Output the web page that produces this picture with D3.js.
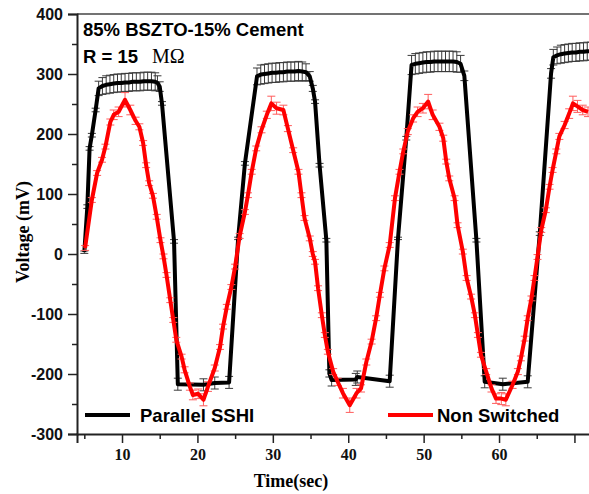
<!DOCTYPE html>
<html>
<head>
<meta charset="utf-8">
<script src="https://cdn.jsdelivr.net/npm/d3@7"></script>
<style>
  html, body { margin: 0; padding: 0; background: #fff; overflow: hidden; }
  svg { display: block; }
</style>
</head>
<body>
<svg width="589" height="494"></svg>
<script>
// Parallel SSHI (black)
var sshiTime = [5.0, 5.4, 5.7, 6.0, 6.5, 6.9, 7.4, 7.9, 8.4, 8.9, 9.4, 9.9, 10.4, 10.9, 11.4, 11.9, 12.4, 12.9, 13.4, 13.9, 14.4, 14.7, 15.0, 15.3, 16.9,
  17.4, 20.8, 22.3, 24.2,
  25.4, 26.3, 27.9, 28.4, 28.9, 29.4, 29.9, 30.4, 30.9, 31.4, 31.9, 32.4, 32.9, 33.4, 33.9, 34.4, 34.9, 35.3, 35.6, 36.2, 37.1,
  37.5, 37.8, 41.0, 41.2, 45.5,
  46.6, 47.7, 48.4, 48.9, 49.4, 49.9, 50.4, 50.9, 51.4, 51.9, 52.4, 52.9, 53.4, 53.9, 54.4, 54.9, 55.4, 57.0,
  58.1, 60.5, 63.8,
  65.4, 66.9, 67.2, 67.7, 68.2, 68.7, 69.2, 69.7, 70.2, 70.7, 71.2, 71.7, 72.2];
var sshiVolt = [3, 79, 176, 198, 240, 276, 280, 282, 283, 284, 285, 285, 286, 286, 287, 287, 287, 288, 288, 288, 287, 285, 279, 251, 21,
  -217, -218, -215, -214,
  26, 151, 296, 299, 300, 301, 302, 302, 303, 303, 304, 304, 304, 305, 304, 303, 296, 276, 254, 148, 23,
  -199, -210, -209, -205, -212,
  26, 193, 315, 317, 318, 319, 320, 320, 321, 321, 321, 321, 321, 321, 320, 317, 297, 23,
  -213, -217, -213,
  34, 301, 328, 331, 333, 334, 335, 336, 336, 337, 337, 338, 338];
var sshiErr = [2, 3, 3, 3, 3, 12, 14, 15, 15, 15, 15, 15, 15, 15, 15, 15, 15, 15, 15, 15, 15, 12, 8, 3, 3,
  10, 10, 10, 10,
  2, 3, 14, 16, 16, 16, 16, 16, 16, 16, 16, 16, 16, 16, 16, 14, 8, 5, 3, 3, 3,
  6, 10, 10, 10, 10,
  2, 3, 16, 17, 17, 17, 17, 17, 17, 17, 17, 17, 17, 17, 17, 14, 8, 3,
  10, 10, 10,
  3, 8, 13, 14, 15, 15, 15, 15, 15, 15, 15, 15, 15];

// Non Switched (red)
var nsTime = [5.1, 6.0, 6.7, 7.35, 7.8, 8.45, 8.9, 9.55, 10.4, 11.1, 11.8, 12.3, 12.8, 13.2, 13.6, 14.1, 14.6, 15.1,
  15.5, 15.9, 16.4, 16.8, 17.2, 17.9, 18.3, 19.0, 19.4, 20.1, 20.8, 21.4, 22.3, 23.0, 23.4, 23.9, 24.5, 25.0,
  25.6, 26.3, 26.7, 27.2, 27.8, 28.5, 29.2, 29.8, 30.5, 31.4, 32.0, 32.7, 33.4, 33.8, 34.2, 34.9, 35.3,
  35.6, 36.0, 36.5, 36.9, 37.3, 38.0, 38.6, 39.3, 40.2, 41.1, 41.7, 42.4, 43.1, 43.7, 44.2, 44.8,
  45.5, 46.2, 46.8, 47.3, 47.9, 48.6, 49.2, 49.9, 50.6, 51.2, 52.1, 52.6, 53.0, 53.4, 54.1, 54.5, 55.2,
  55.7, 56.3, 56.8, 57.2, 57.6, 58.3, 59.0, 59.6, 60.3, 60.9, 61.8, 62.5, 62.9, 63.4, 63.8, 64.3, 64.7, 65.1,
  65.6, 66.2, 66.7, 67.1, 67.6, 68.0, 68.7, 69.3, 69.8, 70.4, 71.1, 71.8];
var nsVolt = [10, 90, 135, 157, 179, 220, 232, 237, 257, 240, 222, 212, 185, 148, 118, 97, 62, 23,
  -4, -35, -77, -110, -143, -171, -193, -221, -235, -233, -243, -221, -190, -155, -121, -88, -55, -21,
  30, 70, 98, 137, 176, 207, 232, 251, 243, 240, 209, 173, 137, 98, 60, 26, 0,
  -13, -57, -102, -135, -163, -196, -213, -232, -252, -232, -224, -180, -146, -107, -68, -24,
  15, 93, 137, 171, 204, 226, 237, 243, 254, 232, 212, 193, 154, 126, 93, 48, 4,
  -40, -71, -102, -135, -168, -196, -224, -241, -241, -243, -218, -196, -174, -141, -107, -74, -40, -5,
  40, 73, 112, 140, 171, 196, 215, 234, 251, 246, 240, 237];
var nsErr = [4, 4, 4, 4, 4, 5, 8, 8, 12, 8, 6, 5, 4, 4, 4, 4, 4, 4,
  4, 4, 4, 4, 4, 4, 5, 6, 8, 8, 10, 8, 5, 4, 4, 4, 4, 4,
  4, 4, 4, 4, 4, 5, 6, 12, 10, 8, 5, 4, 4, 4, 4, 4, 4,
  4, 4, 4, 4, 4, 5, 6, 8, 12, 8, 6, 5, 4, 4, 4, 4,
  4, 4, 4, 4, 5, 6, 8, 8, 12, 8, 6, 5, 4, 4, 4, 4, 4,
  4, 4, 4, 4, 4, 5, 6, 8, 10, 10, 6, 5, 4, 4, 4, 4, 4, 4,
  4, 4, 4, 4, 4, 5, 6, 8, 12, 10, 8, 8];

var xTicks = [10, 20, 30, 40, 50, 60, 70];
var xMinor = [5, 15, 25, 35, 45, 55, 65];
var yTicks = [-300, -200, -100, 0, 100, 200, 300, 400];
var yMinor = [-250, -150, -50, 50, 150, 250, 350];

var sansBold = "'Liberation Sans', Arial, sans-serif";
var serif = "'Liberation Serif', 'Times New Roman', serif";

var svg = d3.select("svg");

var x = d3.scaleLinear().domain([4.03, 74]).range([77, 604.6]);
var y = d3.scaleLinear().domain([-300, 400]).range([434, 14]);

function zipSeries(t, v, e) {
  return t.map(function(d, i) { return { t: d, v: v[i], e: e[i] }; });
}
var sshi = zipSeries(sshiTime, sshiVolt, sshiErr);
var ns = zipSeries(nsTime, nsVolt, nsErr);

// top frame line
svg.append("line")
  .attr("x1", 77).attr("x2", 589)
  .attr("y1", y(400)).attr("y2", y(400))
  .attr("stroke", "#444").attr("stroke-width", 1.5);

// axes
var xAxis = svg.append("g")
  .attr("transform", "translate(0," + y(-300) + ")")
  .call(d3.axisBottom(x).tickValues(xTicks).tickSize(9).tickPadding(6)
    .tickFormat(function(d) { return d === 70 ? "" : d; }));
svg.append("g")
  .attr("transform", "translate(0," + y(-300) + ")")
  .call(d3.axisBottom(x).tickValues(xMinor).tickSize(5).tickFormat(""))
  .select(".domain").remove();

var yAxis = svg.append("g")
  .attr("transform", "translate(" + x(4.03) + ",0)")
  .call(d3.axisLeft(y).tickValues(yTicks).tickSize(9).tickPadding(5)
    .tickFormat(function(d) { return String(d); }));
svg.append("g")
  .attr("transform", "translate(" + x(4.03) + ",0)")
  .call(d3.axisLeft(y).tickValues(yMinor).tickSize(5).tickFormat(""))
  .select(".domain").remove();

svg.selectAll(".domain").attr("stroke", "#222").attr("stroke-width", 2);
svg.selectAll(".tick line").attr("stroke", "#222").attr("stroke-width", 1.5);
xAxis.selectAll("text")
  .attr("font-family", serif).attr("font-weight", "bold").attr("font-size", 16).attr("fill", "#111");
yAxis.selectAll("text")
  .attr("font-family", sansBold).attr("font-weight", "bold").attr("font-size", 16).attr("fill", "#111");

// error bars
function drawErrors(data, color, cls) {
  var g = svg.append("g").attr("class", cls)
    .attr("stroke", color).attr("stroke-width", 1).attr("fill", "none");
  var bar = g.selectAll("g").data(data).enter().append("g");
  bar.append("line")
    .attr("x1", function(d) { return x(d.t); })
    .attr("x2", function(d) { return x(d.t); })
    .attr("y1", function(d) { return y(d.v - d.e); })
    .attr("y2", function(d) { return y(d.v + d.e); });
  [1, -1].forEach(function(s) {
    bar.append("line")
      .attr("x1", function(d) { return x(d.t) - 4; })
      .attr("x2", function(d) { return x(d.t) + 4; })
      .attr("y1", function(d) { return y(d.v + s * d.e); })
      .attr("y2", function(d) { return y(d.v + s * d.e); });
  });
}
drawErrors(sshi, "#3a3a3a", "err-sshi");

var line = d3.line()
  .x(function(d) { return x(d.t); })
  .y(function(d) { return y(d.v); });

svg.append("path")
  .datum(sshi)
  .attr("d", line)
  .attr("fill", "none")
  .attr("stroke", "#000")
  .attr("stroke-width", 4)
  .attr("stroke-linejoin", "round");

drawErrors(ns, "#ff5c5c", "err-ns");

svg.append("path")
  .datum(ns)
  .attr("d", line)
  .attr("fill", "none")
  .attr("stroke", "#ff0000")
  .attr("stroke-width", 4)
  .attr("stroke-linejoin", "round");

// annotations
svg.append("text")
  .attr("x", 83).attr("y", 36)
  .attr("font-family", sansBold).attr("font-weight", "bold").attr("font-size", 18.5)
  .text("85% BSZTO-15% Cement");
var rText = svg.append("text")
  .attr("x", 83).attr("y", 63)
  .attr("font-family", sansBold).attr("font-weight", "bold").attr("font-size", 18.5);
rText.append("tspan").text("R = 15");
rText.append("tspan").attr("x", 152)
  .attr("font-family", serif).attr("font-weight", "normal").attr("font-size", 20)
  .text("MΩ");

// axis titles
svg.append("text")
  .attr("x", 291).attr("y", 487)
  .attr("text-anchor", "middle")
  .attr("font-family", serif).attr("font-weight", "bold").attr("font-size", 18)
  .text("Time(sec)");
svg.append("text")
  .attr("transform", "translate(29,232) rotate(-90)")
  .attr("text-anchor", "middle")
  .attr("font-family", serif).attr("font-weight", "bold").attr("font-size", 18)
  .text("Voltage (mV)");

// legend
var legendItems = [
  { label: "Parallel SSHI", color: "#000", x: 85 },
  { label: "Non Switched", color: "#ff0000", x: 388 }
];
var legend = svg.selectAll(".legend").data(legendItems).enter().append("g")
  .attr("class", "legend")
  .attr("transform", function(d) { return "translate(" + d.x + ",415)"; });
legend.append("line")
  .attr("x1", 0).attr("x2", 45)
  .attr("stroke", function(d) { return d.color; })
  .attr("stroke-width", 4);
legend.append("text")
  .attr("x", function(d, i) { return i === 0 ? 55 : 49; })
  .attr("y", 6.5)
  .attr("font-family", sansBold).attr("font-weight", "bold").attr("font-size", 18.5)
  .text(function(d) { return d.label; });
</script>
</body>
</html>
